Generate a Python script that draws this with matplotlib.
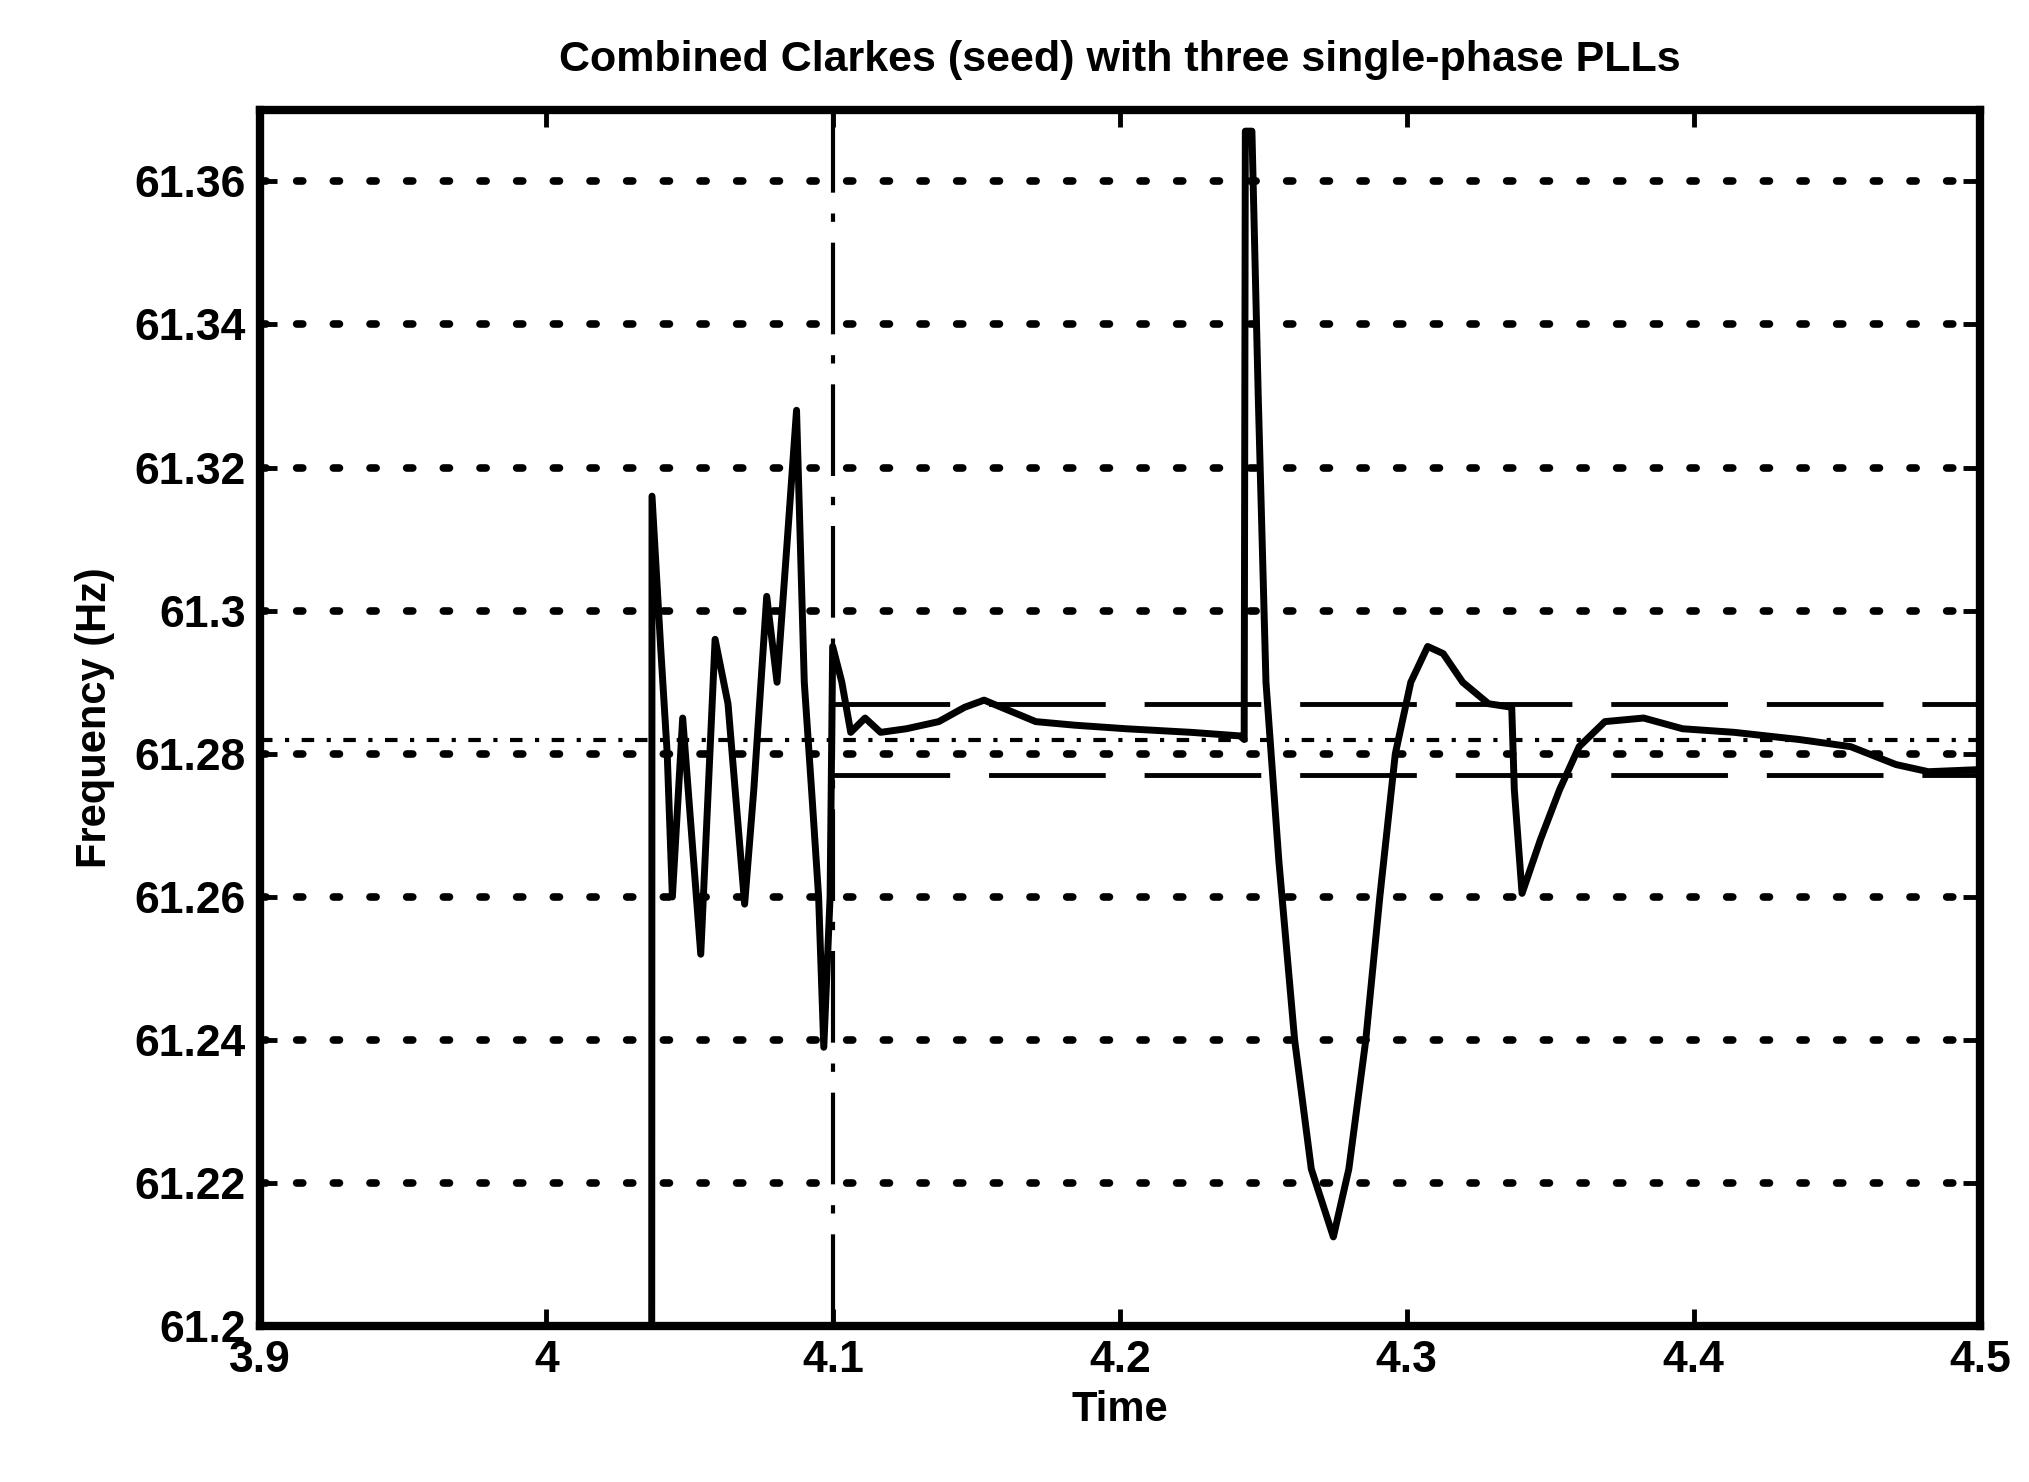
import numpy as np
import matplotlib
matplotlib.use("Agg")
import matplotlib.pyplot as plt

# signal
t = [3.9, 4.0367, 4.0368, 4.0398, 4.0421, 4.0439, 4.0475, 4.0538, 4.0588, 4.0633,
     4.0691, 4.0723, 4.0768, 4.0804, 4.0840, 4.0872, 4.0899, 4.0926, 4.0949, 4.0967,
     4.0989, 4.0998, 4.103, 4.1061, 4.1111, 4.1165, 4.1255, 4.1368, 4.1458, 4.1526,
     4.1616, 4.1706, 4.1842, 4.2022, 4.2248, 4.2419, 4.2433, 4.2437, 4.246, 4.2482,
     4.2509, 4.2554, 4.2609, 4.2667, 4.2744, 4.2798, 4.2857, 4.2906, 4.2960, 4.3014,
     4.3073, 4.3127, 4.3195, 4.3285, 4.3366, 4.3375, 4.3402, 4.3466, 4.3533, 4.3601,
     4.3691, 4.3826, 4.3962, 4.4142, 4.4368, 4.4548, 4.4706, 4.4819, 4.5]
freq = [61.2, 61.2, 61.316, 61.295, 61.28, 61.26, 61.285, 61.252, 61.296, 61.287,
        61.259, 61.275, 61.302, 61.29, 61.31, 61.328, 61.29, 61.274, 61.26, 61.239,
        61.26, 61.295, 61.29, 61.283, 61.285, 61.283, 61.2835, 61.2845, 61.2865, 61.2875,
        61.286, 61.2845, 61.284, 61.2835, 61.283, 61.2825, 61.282, 61.367, 61.367, 61.33,
        61.29, 61.265, 61.24, 61.222, 61.2125, 61.222, 61.24, 61.26, 61.28, 61.29,
        61.295, 61.294, 61.29, 61.287, 61.2865, 61.275, 61.2605, 61.268, 61.275, 61.281,
        61.2845, 61.285, 61.2835, 61.283, 61.282, 61.281, 61.2785, 61.2775, 61.2778]

f_ref = 61.282
band_hi = 61.287
band_lo = 61.277
t_step = 4.1

xticks = [3.9, 4.0, 4.1, 4.2, 4.3, 4.4, 4.5]
xticklabels = ["3.9", "4", "4.1", "4.2", "4.3", "4.4", "4.5"]
yticks = [61.2, 61.22, 61.24, 61.26, 61.28, 61.3, 61.32, 61.34, 61.36]
yticklabels = ["61.2", "61.22", "61.24", "61.26", "61.28", "61.3", "61.32", "61.34", "61.36"]

plt.rcParams['font.family'] = ['Liberation Sans', 'DejaVu Sans']
plt.rcParams['font.weight'] = 'bold'

fig = plt.figure(figsize=(20.29, 14.82), dpi=100)
ax = fig.add_axes([0.128, 0.105, 0.848, 0.821])

for y in yticks[1:]:
    ax.axhline(y, color='k', lw=5.5, linestyle=(0, (0.8, 4)), dash_capstyle='round', zorder=1)

ax.axhline(f_ref, color='k', lw=3, linestyle=(0, (3, 3, 1, 3)), zorder=1)
ax.plot([t_step, 4.5], [band_hi, band_hi], color='k', lw=3.5, linestyle=(0, (24, 8)), zorder=2)
ax.plot([t_step, 4.5], [band_lo, band_lo], color='k', lw=3.5, linestyle=(0, (24, 8)), zorder=2)
ax.axvline(t_step, color='k', lw=3, linestyle=(0, (22, 5, 2, 5)), zorder=2)

ax.plot(t, freq, color='k', lw=5, zorder=3, solid_joinstyle='round')

ax.set_xlim(3.9, 4.5)
ax.set_ylim(61.2, 61.37)
ax.set_xticks(xticks)
ax.set_xticklabels(xticklabels)
ax.set_yticks(yticks)
ax.set_yticklabels(yticklabels)
ax.tick_params(direction='in', length=12, width=3.5, labelsize=32, top=True, right=True, pad=10)
for s in ax.spines.values():
    s.set_linewidth(6)

ax.set_title("Combined Clarkes (seed) with three single-phase PLLs", fontsize=31, fontweight='bold', pad=28)
ax.set_xlabel("Time", fontsize=30, fontweight='bold', labelpad=6)
ax.set_ylabel("Frequency (Hz)", fontsize=30, fontweight='bold', labelpad=14)

fig.savefig("out.png", dpi=100)
